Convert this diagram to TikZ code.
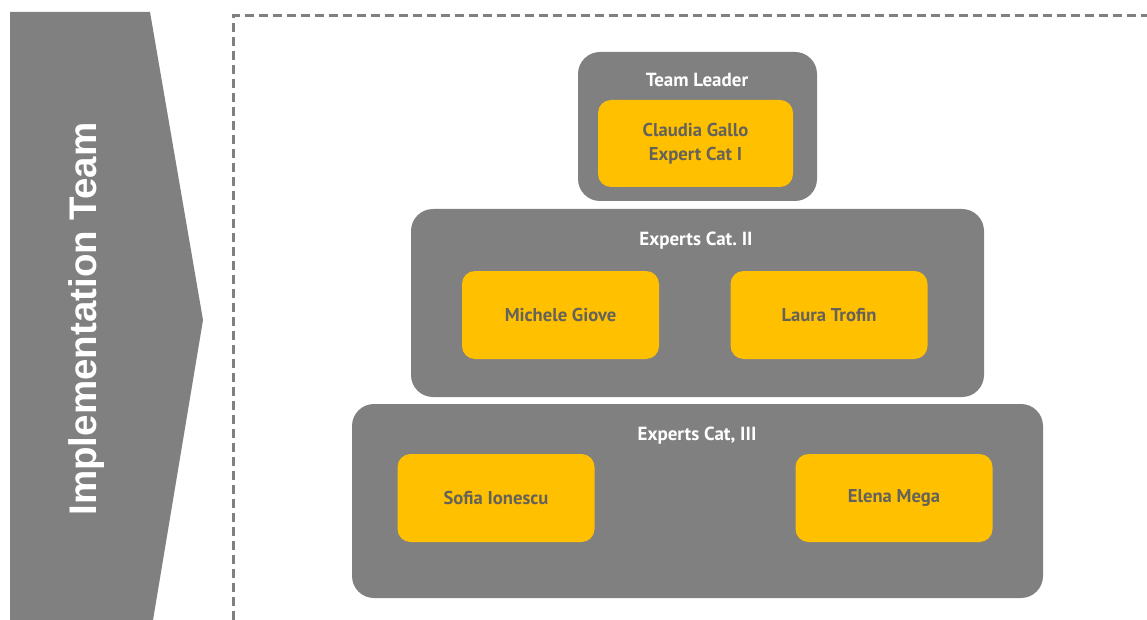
\documentclass[tikz,border=0pt]{standalone}
\usepackage{fontspec}
\setmainfont{PT Sans}
\newfontfamily\arrowfont{Liberation Sans}
\usepackage{tikz}
\usetikzlibrary{positioning}
\definecolor{teamgray}{RGB}{128,128,128}
\definecolor{teamyellow}{RGB}{255,192,0}
\definecolor{nametext}{RGB}{100,98,90}

\begin{document}
\begin{tikzpicture}[x=1pt,y=-1pt,
        level/.style={rectangle,rounded corners=22pt,fill=teamgray,inner sep=0pt},
        person/.style={rectangle,rounded corners=13pt,fill=teamyellow,inner sep=0pt,
            minimum width=197pt,minimum height=88pt,align=center,text=nametext,
            font=\fontsize{18.6}{24}\selectfont\bfseries},
        title/.style={text=white,inner sep=0pt,font=\fontsize{19}{20}\selectfont\bfseries}]
            \useasboundingbox (0,0) rectangle (1147,620);
            % arrow on the left
            \fill[teamgray] (10,12) -- (150,12) -- (203,320) -- (153,620) -- (10,620) -- cycle;
            \node[rotate=90,text=white,font=\arrowfont\fontsize{38.5}{40}\selectfont\bfseries] (arrowtext) at (87,319) {Implementation Team};
            \draw[teamgray,line width=3pt,dash pattern=on 9pt off 5pt] (233,620) -- (233,16) -- (1147,16);
            % levels
            \node[level,minimum width=239pt,minimum height=149pt] (lead) at (697.5,126.5) {};
            \node[level,minimum width=573pt,minimum height=188pt] (cattwo) at (697.5,303) {};
            \node[level,minimum width=691pt,minimum height=194pt] (catthree) at (697.5,501) {};
            \node[title] (leadtitle) at (697,80) {Team Leader};
            \node[title] (cattwotitle) at (696,241) {Experts Cat.\ II};
            \node[title] (catthreetitle) at (697,436) {Experts Cat, III};
            % people
            \node[person,minimum width=195pt,minimum height=87pt] (gallo) at (695.5,143.5) {Claudia Gallo\\Expert Cat I};
            \node[person] (giove) at (560.5,315) {Michele Giove};
            \node[person] (trofin) at (829,315) {Laura Trofin};
            \node[person] (ionescu) at (496,498) {Sofia Ionescu};
            \node[person] (mega) at (894,498) {Elena Mega};
        \end{tikzpicture}
\end{document}
